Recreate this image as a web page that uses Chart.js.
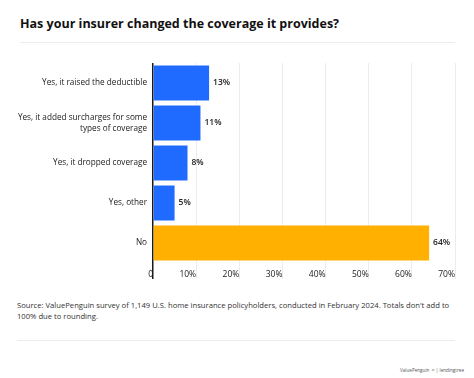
<!DOCTYPE html>
<html>
<head>
<meta charset="utf-8">
<script src="https://cdn.jsdelivr.net/npm/chart.js@4.4.1/dist/chart.umd.min.js"></script>
<style>
  html, body { margin: 0; padding: 0; background: #fff; }
  body { width: 474px; height: 378px; position: relative; overflow: hidden; font-family: "Open Sans", sans-serif; }
  #title { position: absolute; left: 20px; top: 15px; font-size: 12.5px; font-weight: 700; color: #111; white-space: nowrap; }
  .rule { position: absolute; left: 20px; width: 435px; height: 1px; background: #ececec; }
  #chartBox { position: absolute; left: 0; top: 0; width: 474px; height: 290px; }
  #source { position: absolute; left: 17px; top: 300px; width: 446px; font-size: 7.65px; line-height: 11px; color: #333; }
  #logo { position: absolute; right: 10px; top: 367px; font-size: 4.6px; color: #555; white-space: nowrap; }
</style>
</head>
<body>
<div id="title">Has your insurer changed the coverage it provides?</div>
<div class="rule" style="top:42px"></div>
<div id="chartBox"><canvas id="c" width="474" height="290"></canvas></div>
<div id="source">Source: ValuePenguin survey of 1,149 U.S. home insurance policyholders, conducted in February 2024. Totals don't add to 100% due to rounding.</div>
<div class="rule" style="top:340px; left:17px; width:438px"></div>
<div id="logo">ValuePenguin ✧ | lendingtree</div>
<script>
const categories = [
  "Yes, it raised the deductible",
  ["Yes, it added surcharges for some", "types of coverage"],
  "Yes, it dropped coverage",
  "Yes, other",
  "No"
];
const values = [13, 11, 8, 5, 64];
const valueLabels = ["13%", "11%", "8%", "5%", "64%"];
const barColors = ["#1f6bff", "#1f6bff", "#1f6bff", "#1f6bff", "#ffb000"];
const xTicks = [0, 10, 20, 30, 40, 50, 60, 70];

const valueLabelPlugin = {
  id: 'valueLabels',
  afterDatasetsDraw(chart) {
    const ctx = chart.ctx;
    const meta = chart.getDatasetMeta(0);
    ctx.save();
    ctx.font = '600 8.5px "Open Sans"';
    ctx.fillStyle = '#222';
    ctx.textAlign = 'left';
    ctx.textBaseline = 'middle';
    meta.data.forEach((bar, i) => {
      ctx.fillText(valueLabels[i], bar.x + 4, bar.y);
    });
    ctx.restore();
  }
};

new Chart(document.getElementById('c'), {
  type: 'bar',
  data: {
    labels: categories,
    datasets: [{
      data: values,
      backgroundColor: barColors,
      borderWidth: 0,
      categoryPercentage: 1,
      barPercentage: 0.875
    }]
  },
  options: {
    indexAxis: 'y',
    responsive: false,
    animation: false,
    devicePixelRatio: 1,
    layout: { padding: { top: 63, right: 19, left: 0, bottom: 0 } },
    plugins: { legend: { display: false }, tooltip: { enabled: false } },
    scales: {
      x: {
        min: 0, max: 70,
        afterBuildTicks(scale) { scale.ticks = xTicks.map(v => ({ value: v })); },
        afterFit(scale) { scale.height = 27; },
        border: { display: false },
        grid: {
          color: ctx => ctx.index === 0 ? '#1a1a1a' : '#ececec',
          lineWidth: ctx => ctx.index === 0 ? 1.5 : 1,
          tickLength: 16,
          drawTicks: true
        },
        ticks: {
          align: 'end',
          padding: -10,
          color: '#222',
          font: { family: '"Open Sans"', size: 8.5 },
          callback: v => v === 0 ? '0' : v + '%'
        }
      },
      y: {
        afterFit(scale) { scale.width = 153; },
        border: { display: false },
        grid: { display: false, drawTicks: false },
        ticks: {
          padding: 6,
          color: '#222',
          font: { family: '"Open Sans"', size: 8.2, lineHeight: 1.4 }
        }
      }
    }
  },
  plugins: [valueLabelPlugin]
});
</script>
</body>
</html>
